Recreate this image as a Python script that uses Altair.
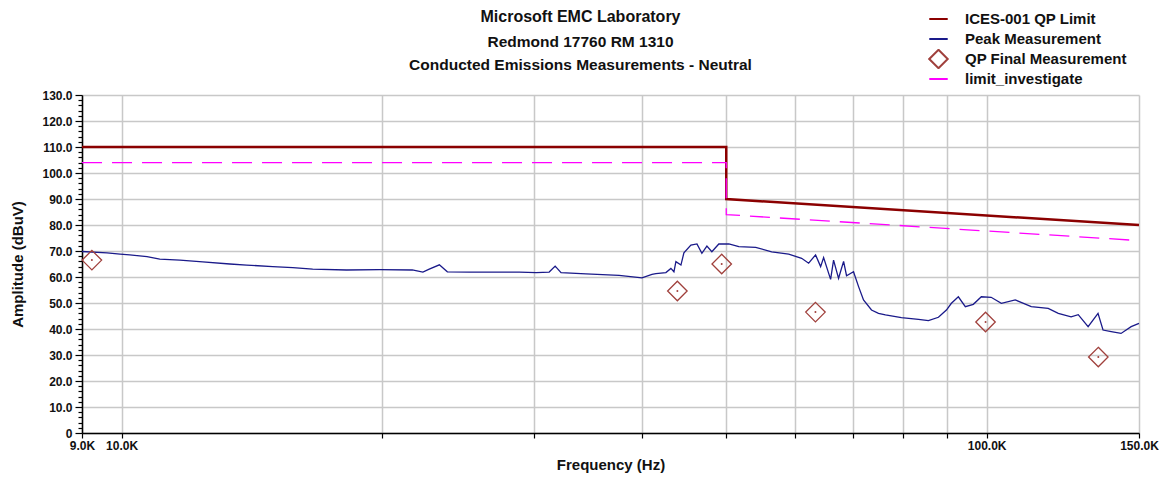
import altair as alt
import pandas as pd

# ---- data ----
peak_khz = [9.0, 9.62, 9.96, 10.22, 10.70, 11.07, 11.68, 12.41, 13.34, 13.95, 14.95, 15.77,
            16.63, 18.20, 19.87, 21.68, 22.30, 22.68, 23.30, 23.80, 25.23, 28.82, 30.15,
            31.21, 31.71, 32.21, 34.42, 37.59, 39.95, 41.03, 41.46, 42.58, 43.15, 43.50,
            43.73, 44.32, 44.67, 45.51, 46.25, 46.86, 47.49, 48.12, 49.02, 50.35, 51.70,
            54.08, 56.43, 59.04, 61.11, 62.26, 63.42, 64.28, 64.79, 66.01, 66.53, 67.42,
            68.33, 68.87, 70.16, 71.11, 72.05, 73.60, 74.98, 76.38, 79.70, 83.40, 85.64,
            87.95, 89.84, 91.04, 92.74, 94.48, 96.51, 98.59, 101.2, 103.98, 107.9, 112.6,
            117.8, 121.0, 125.2, 127.6, 131.0, 134.5, 136.3, 139.3, 143.0, 146.9, 150.0]
peak_dbuv = [69.8, 69.3, 68.8, 68.5, 67.8, 66.9, 66.5, 65.8, 65.0, 64.6, 64.0, 63.6,
             63.0, 62.7, 62.8, 62.7, 61.9, 63.0, 64.7, 62.0, 61.9, 61.9, 61.7,
             61.9, 64.2, 61.7, 61.2, 60.6, 59.7, 61.0, 61.3, 61.7, 63.3, 62.0,
             65.9, 64.6, 69.3, 72.3, 72.7, 69.1, 71.9, 69.7, 72.7, 72.7, 71.7,
             71.4, 69.7, 68.8, 67.2, 65.3, 68.5, 64.0, 67.5, 59.1, 66.5, 59.5,
             66.0, 60.5, 62.0, 56.3, 51.2, 47.3, 46.0, 45.4, 44.4, 43.7, 43.2,
             44.5, 47.3, 49.9, 52.4, 48.6, 49.5, 52.4, 52.2, 49.9, 51.2, 48.6,
             47.9, 46.0, 44.7, 45.5, 40.9, 46.0, 39.6, 39.0, 38.3, 40.9, 42.2]

qp_khz = [9.24, 43.9, 49.4, 63.4, 99.7, 134.6]
qp_dbuv = [66.5, 54.6, 65.0, 46.5, 42.7, 29.2]

limit_khz = [9.0, 50.0, 50.0, 150.0]
limit_dbuv = [110.0, 110.0, 90.0, 80.0]
invest_dbuv = [104.0, 104.0, 84.0, 74.0]

series = ["ICES-001 QP Limit", "Peak Measurement", "QP Final Measurement", "limit_investigate"]
colors = ["#8b0000", "#1a1a8a", "#a0403c", "#ff00ff"]
shapes = ["M-1,0L1,0", "M-1,0L1,0", "M0,-1L1,0L0,1L-1,0Z", "M-1,0L1,0"]

title_lines = ["Microsoft EMC Laboratory", "Redmond 17760 RM 1310",
               "Conducted Emissions Measurements - Neutral"]
x_ticks = [9000, 10000, 20000, 30000, 40000, 50000, 60000, 70000, 80000, 90000, 100000, 150000]
x_labeled = [9000, 10000, 100000, 150000]
y_ticks = list(range(0, 131, 2))


def frame(khz, vals, name):
    return pd.DataFrame({"freq": [k * 1000 for k in khz], "amp": vals,
                         "series": name, "i": list(range(len(khz)))})


peak_df = frame(peak_khz, peak_dbuv, series[1])
qp_df = frame(qp_khz, qp_dbuv, series[2])
lim_df = frame(limit_khz, limit_dbuv, series[0])
inv_df = frame(limit_khz, invest_dbuv, series[3])

FONT = "Liberation Sans"
axis_style = dict(labelFont=FONT, labelFontSize=12, labelFontWeight="bold", labelColor="#111",
                  titleFont=FONT, titleFontSize=15, titleFontWeight="bold", titleColor="#111",
                  gridColor="#c8c8c8", gridWidth=1.5, domainColor="#000", domainWidth=1.5,
                  tickColor="#000", tickWidth=1.2, labelOverlap=False, labelFlush=False)

lab_test = " || ".join(f"datum.value == {v}" for v in x_labeled)
x_enc = alt.X("freq:Q", scale=alt.Scale(type="log", domain=[9000, 150000], nice=False),
              axis=alt.Axis(values=x_ticks, title="Frequency (Hz)",
                            labelExpr=f"({lab_test}) ? format(datum.value/1000, '.1f') + 'K' : ''",
                            tickSize=5, labelPadding=2, titlePadding=6, **axis_style))
y_enc = alt.Y("amp:Q", scale=alt.Scale(domain=[0, 130], nice=False),
              axis=alt.Axis(values=y_ticks, title="Amplitude (dBuV)",
                            labelExpr="datum.value % 10 == 0 ? (datum.value == 0 ? '0' : format(datum.value, '.1f')) : ''",
                            gridOpacity={"condition": {"test": "datum.value % 10 != 0", "value": 0}, "value": 1},
                            tickSize={"condition": {"test": "datum.value % 10 != 0", "value": 4}, "value": 7},
                            labelPadding=3, titlePadding=16, **axis_style))

stroke_scale = alt.Scale(domain=series, range=colors)
shape_scale = alt.Scale(domain=series, range=shapes)

legend = alt.Legend(orient="none", legendX=846, legendY=-86, title=None,
                    labelFont=FONT, labelFontSize=15, labelFontWeight="bold", labelColor="#111",
                    symbolSize=340, symbolStrokeWidth=2, rowPadding=0, clipHeight=20,
                    labelOffset=16, gridAlign="all", labelLimit=300)

limit_layer = alt.Chart(lim_df).mark_line(strokeWidth=2.5).encode(
    x=x_enc, y=y_enc, order="i:Q",
    stroke=alt.Stroke("series:N", scale=stroke_scale, legend=legend))
inv_layer = alt.Chart(inv_df).mark_line(strokeWidth=1.3, strokeDash=[20, 10]).encode(
    x=x_enc, y=y_enc, order="i:Q",
    stroke=alt.Stroke("series:N", scale=stroke_scale, legend=legend))
peak_layer = alt.Chart(peak_df).mark_line(strokeWidth=1.3).encode(
    x=x_enc, y=y_enc, order="i:Q",
    stroke=alt.Stroke("series:N", scale=stroke_scale, legend=legend))
qp_layer = alt.Chart(qp_df).mark_point(filled=False, size=380, strokeWidth=1.3, opacity=1).encode(
    x=x_enc, y=y_enc,
    stroke=alt.Stroke("series:N", scale=stroke_scale, legend=legend),
    shape=alt.Shape("series:N", scale=shape_scale, legend=legend))
qp_dot = alt.Chart(qp_df).mark_point(filled=True, size=4, color=colors[2], opacity=1).encode(
    x=x_enc, y=y_enc)

chart = alt.layer(limit_layer, inv_layer, peak_layer, qp_layer, qp_dot).properties(
    width=1057, height=338,
    autosize="none",
    background="white",
    padding={"left": 74, "top": 87, "right": 20, "bottom": 40},
    title=alt.TitleParams(text=title_lines[0], subtitle=title_lines[1:],
                          font=FONT, fontSize=16, fontWeight="bold", color="#111",
                          subtitleFont=FONT, subtitleFontSize=15.5, subtitleFontWeight="bold",
                          subtitleColor="#111", subtitleLineHeight=23, subtitlePadding=10,
                          anchor="middle", dx=-30, offset=-64),
).configure_view(stroke=None)

chart.save("out.html", embed_options={"renderer": "svg", "actions": False})
